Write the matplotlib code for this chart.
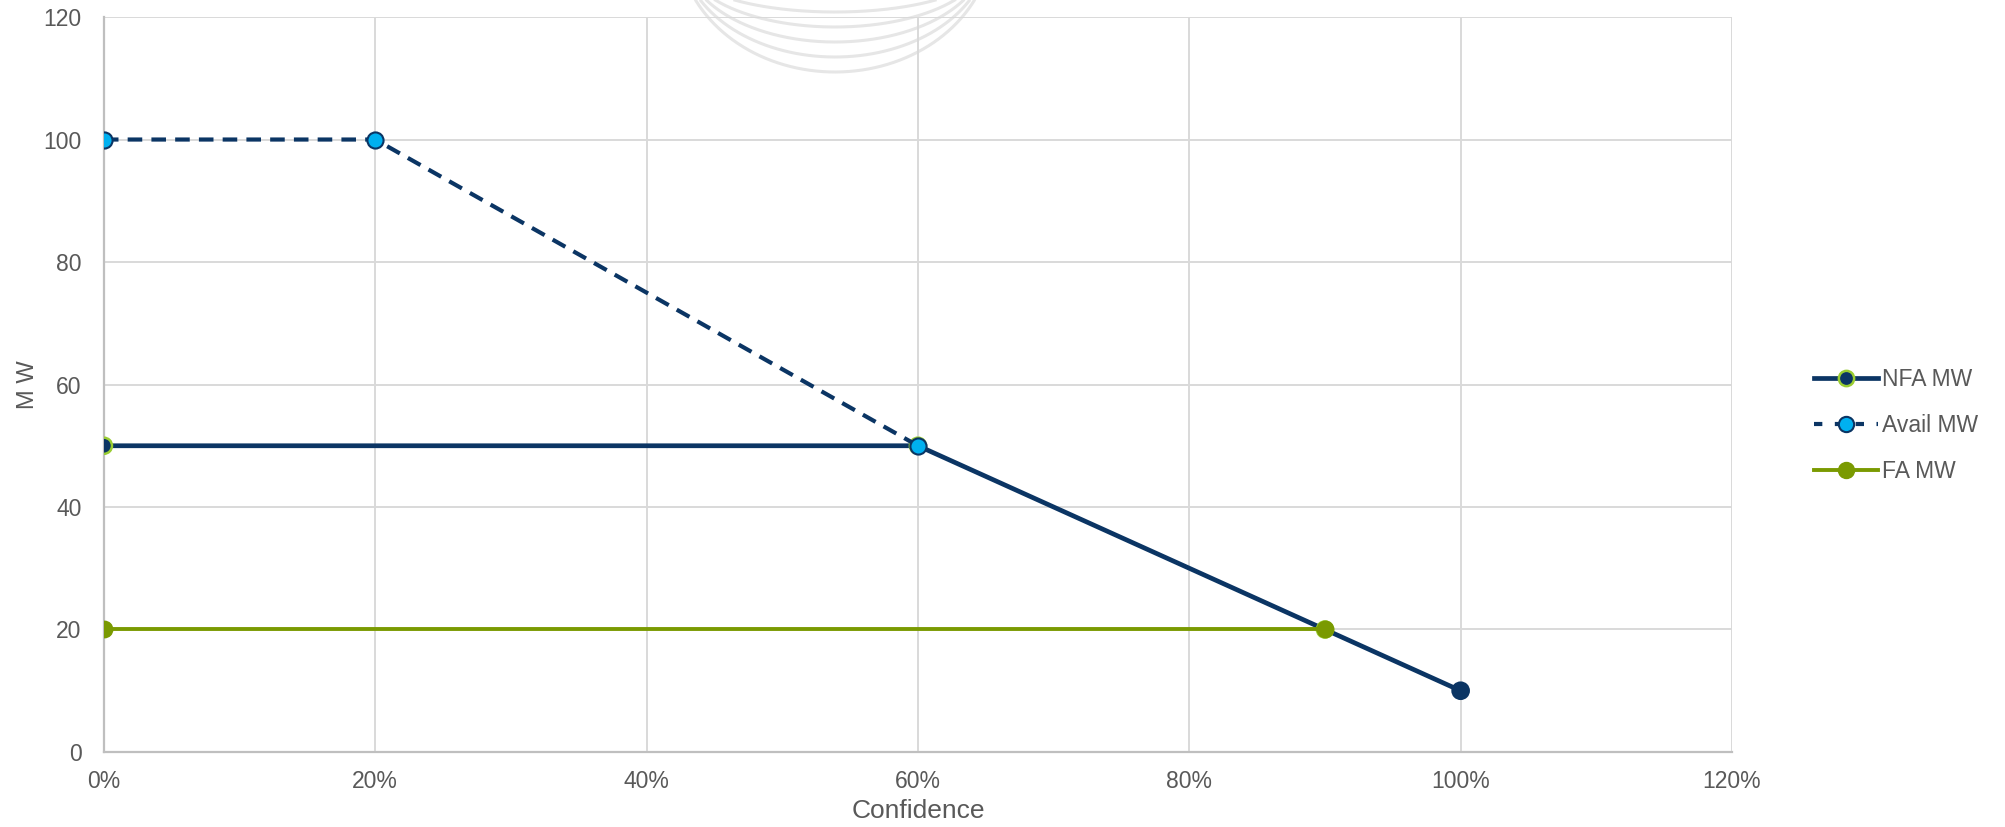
import numpy as np
import matplotlib
matplotlib.use("Agg")
import matplotlib.pyplot as plt
from matplotlib.lines import Line2D
from matplotlib.ticker import FuncFormatter

# data
nfa_x = [0.0, 0.6, 0.9, 1.0]
nfa_y = [50, 50, 20, 10]
avail_x = [0.0, 0.2, 0.6]
avail_y = [100, 100, 50]
fa_x = [0.0, 0.9]
fa_y = [20, 20]

x_ticks = [0.0, 0.2, 0.4, 0.6, 0.8, 1.0, 1.2]
y_ticks = [0, 20, 40, 60, 80, 100, 120]

navy = '#0B3564'
lime = '#9ACD32'
sky = '#00B0F0'
green = '#7A9A01'
text_gray = '#595959'

plt.rcParams['font.family'] = ['Liberation Sans', 'DejaVu Sans']

fig = plt.figure(figsize=(20.06, 8.27), dpi=100)
ax = fig.add_axes([0.0518, 0.0907, 0.8116, 0.8887])
ax.patch.set_visible(False)  # let the watermark show through

# faint watermark arcs at the top (decoration only)
W, H = 2006, 827
t = np.linspace(np.pi, 2 * np.pi, 300)
for k, d in enumerate([12, 27, 42, 57, 72]):
    a = 145 + 3 * k
    b = 1.5 * d + 25
    cx = 835
    cy = H + (b - d)          # centre above the top edge, in pixels from bottom
    px = cx + a * np.cos(t)
    py = cy + b * np.sin(t)
    keep = py <= H
    fig.add_artist(Line2D(px[keep] / W, py[keep] / H, color='#E6E6E6', lw=2.2,
                          zorder=0, transform=fig.transFigure))

ax.plot(nfa_x, nfa_y, color=navy, lw=3.4, zorder=3)
nfa_edges = [lime, lime, lime, navy]
ax.scatter(nfa_x, nfa_y, s=135, c=navy, edgecolors=nfa_edges, linewidths=1.8, zorder=4)

ax.plot(avail_x, avail_y, color=navy, lw=3.0, dashes=(3.5, 2.2), zorder=5)
ax.scatter(avail_x, avail_y, s=135, c=sky, edgecolors=navy, linewidths=1.5, zorder=6)

ax.plot(fa_x, fa_y, color=green, lw=2.8, zorder=7)
ax.scatter(fa_x, fa_y, s=140, c=green, edgecolors=green, linewidths=1, zorder=8)

ax.set_xlim(0, 1.2)
ax.set_ylim(0, 120)
ax.set_xticks(x_ticks)
ax.set_yticks(y_ticks)
ax.xaxis.set_major_formatter(FuncFormatter(lambda v, p: f'{v * 100:.0f}%'))
ax.grid(True, color='#D9D9D9', lw=1.4, zorder=0)
ax.set_axisbelow(True)
for side in ['top', 'right']:
    ax.spines[side].set_visible(False)
for side in ['left', 'bottom']:
    ax.spines[side].set_color('#BFBFBF')
    ax.spines[side].set_linewidth(1.6)
ax.tick_params(length=0, labelsize=16.5, colors=text_gray)
ax.tick_params(axis='x', pad=13)
ax.tick_params(axis='y', pad=16)
for lbl in ax.get_xticklabels() + ax.get_yticklabels():
    lbl.set_clip_on(False)

ax.set_xlabel('Confidence', fontsize=19, color=text_gray, labelpad=4)
ax.set_ylabel('M W', fontsize=17, color=text_gray, labelpad=3)

handles = [
    Line2D([], [], color=navy, lw=3.4, marker='o', ms=11, mfc=navy, mec=lime, mew=1.8),
    Line2D([], [], color=navy, lw=3.0, dashes=(2.0, 3.0), marker='o', ms=11, mfc=sky, mec=navy, mew=1.5),
    Line2D([], [], color=green, lw=2.8, marker='o', ms=11.5, mfc=green, mec=green),
]
fig.legend(handles, ['NFA MW', 'Avail MW', 'FA MW'], loc='center left',
           bbox_to_anchor=(0.894, 0.485), frameon=False, fontsize=16.5,
           labelcolor=text_gray, handlelength=2.8, handletextpad=0.15,
           labelspacing=1.0)

fig.savefig('out.png', dpi=100)
